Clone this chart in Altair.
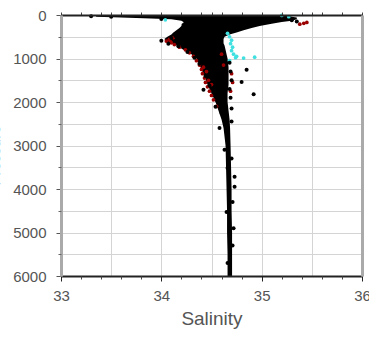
import altair as alt
import pandas as pd

# ---- data ----
env_depth = [0, 40, 60, 80, 100, 130, 160, 200, 250, 300, 350, 400, 450, 500, 550, 600, 650, 700,
             800, 900, 1000, 1200, 1400, 1600, 1800, 2000, 2200, 2400, 2600, 3000, 3500, 4000,
             4500, 5000, 5500, 6000]
env_smin = [33.35, 33.35, 33.6, 33.9, 34.1, 34.2, 34.22, 34.22, 34.2, 34.18, 34.15, 34.12, 34.1,
            34.06, 34.03, 34.05, 34.1, 34.15, 34.22, 34.3, 34.35, 34.39, 34.43, 34.46, 34.5,
            34.54, 34.57, 34.6, 34.62, 34.64, 34.645, 34.65, 34.655, 34.655, 34.66, 34.66]
env_smax = [35.25, 35.3, 35.35, 35.35, 35.35, 35.3, 35.2, 35.1, 34.98, 34.9, 34.82, 34.75, 34.68,
            34.63, 34.62, 34.62, 34.62, 34.63, 34.64, 34.65, 34.66, 34.67, 34.67, 34.67, 34.66,
            34.66, 34.67, 34.68, 34.685, 34.69, 34.695, 34.70, 34.70, 34.705, 34.705, 34.705]

red_sal = [34.05, 34.08, 34.10, 34.13, 34.18, 34.24, 34.28, 34.32, 34.35, 34.38, 34.40, 34.41,
           34.43, 34.44, 34.46, 34.48, 34.50, 34.52, 34.55, 34.45, 34.47, 34.50, 34.42, 34.70,
           34.71, 34.69, 35.42, 35.38, 35.45, 34.12, 34.09, 34.60, 34.62]
red_dep = [600, 560, 640, 680, 740, 800, 870, 950, 1050, 1150, 1250, 1350, 1450, 1550, 1650, 1750,
           1850, 1950, 2100, 1300, 1500, 1600, 1200, 1350, 1550, 1750, 190, 210, 170, 520, 610,
           900, 1150]

cyan_sal = [34.66, 34.68, 34.70, 34.69, 34.71, 34.70, 34.72, 34.74, 34.82, 34.93, 35.20, 35.27,
            34.04, 34.68, 34.75]
cyan_dep = [420, 500, 580, 660, 740, 820, 900, 980, 990, 970, 10, 40, 110, 1050, 950]

blk_sal = [34.85, 34.80, 34.92, 34.42, 34.54, 34.22, 34.58, 34.66, 34.73, 34.73, 34.65, 34.72,
           34.63, 34.71, 34.71, 34.66, 34.70, 34.14, 34.10, 34.00, 34.07, 34.17, 34.26, 34.33,
           34.38, 34.44, 34.48, 34.53, 34.56, 34.60, 34.68, 34.69, 34.70, 34.68, 34.69, 34.70,
           34.70, 33.30, 33.50, 35.30, 35.35, 34.00]
blk_dep = [1260, 1540, 1820, 1720, 2110, 230, 2600, 3520, 3720, 3950, 4530, 4900, 3100, 4300,
           5300, 5700, 3300, 480, 530, 590, 660, 720, 850, 980, 1120, 1400, 1620, 1800, 1980,
           2250, 1100, 1300, 1500, 1700, 1900, 2150, 2450, 30, 40, 120, 150, 90]

x_grid = [33, 33.5, 34, 34.5, 35, 35.5, 36]
x_major = [33, 34, 35, 36]
x_minor = [33.2, 33.4, 33.6, 33.8, 34.2, 34.4, 34.6, 34.8, 35.2, 35.4, 35.6, 35.8]
y_grid = [0, 500, 1000, 1500, 2000, 2500, 3000, 3500, 4000, 4500, 5000, 5500, 6000]
y_major = [0, 1000, 2000, 3000, 4000, 5000, 6000]
y_minor = [500, 1500, 2500, 3500, 4500, 5500]

env = pd.DataFrame({"depth": env_depth, "smin": env_smin, "smax": env_smax})
red = pd.DataFrame({"sal": red_sal, "dep": red_dep})
cyan = pd.DataFrame({"sal": cyan_sal, "dep": cyan_dep})
blk = pd.DataFrame({"sal": blk_sal, "dep": blk_dep})

xs = alt.Scale(domain=[33, 36], nice=False, zero=False)
ys = alt.Scale(domain=[0, 6000], nice=False, zero=False, reverse=True)
FONT = "Liberation Sans"

area = alt.Chart(env).mark_area(orient="horizontal", color="black", interpolate="linear").encode(
    y=alt.Y("depth:Q", scale=ys,
            axis=alt.Axis(orient="left", values=y_grid, grid=True, gridColor="#d4d4d4",
                          labels=False, ticks=False, domain=False, title=None, zindex=0)),
    x=alt.X("smin:Q", scale=xs, stack=None,
            axis=alt.Axis(orient="bottom", values=x_grid, grid=True, gridColor="#d4d4d4",
                          labels=False, ticks=False, domain=False, title=None, zindex=0)),
    x2="smax:Q",
)

redp = alt.Chart(red).mark_circle(color="#9a0000", size=14, opacity=1).encode(
    x=alt.X("sal:Q", scale=xs,
            axis=alt.Axis(orient="bottom", values=x_major, format="d", grid=False, tickSize=5,
                          tickColor="#222", domain=True, domainColor="#222", domainWidth=2,
                          labelFont=FONT, labelFontSize=15, labelColor="#555", labelPadding=7,
                          labelFlush=False, title="Salinity", titleFont=FONT, titleFontSize=19,
                          titleFontWeight="normal", titleColor="#555", titlePadding=6, zindex=1)),
    y=alt.Y("dep:Q", scale=ys,
            axis=alt.Axis(orient="left", values=y_major, format="d", grid=False, tickSize=5,
                          tickColor="#555", domain=True, domainColor="#aaaaaa", domainWidth=3,
                          labelFont=FONT, labelFontSize=15, labelColor="#555", labelPadding=10,
                          labelFlush=False, title="Pressure", titleFont=FONT, titleFontSize=15,
                          titleFontWeight="normal", titleColor="#555", titleX=-62, titleY=140,
                          titleBaseline="alphabetic", titleAngle=270, zindex=1)),
)

cyanp = alt.Chart(cyan).mark_circle(color="#40e0e0", size=14, opacity=1).encode(
    x=alt.X("sal:Q", scale=xs,
            axis=alt.Axis(orient="bottom", values=x_minor, grid=False, tickSize=3,
                          tickColor="#444", domain=False, labels=False, title=None, zindex=1)),
    y=alt.Y("dep:Q", scale=ys,
            axis=alt.Axis(orient="left", values=y_minor, grid=False, tickSize=3,
                          tickColor="#666", domain=False, labels=False, title=None, zindex=1)),
)

blkp = alt.Chart(blk).mark_circle(color="black", size=16, opacity=1).encode(
    x=alt.X("sal:Q", scale=xs,
            axis=alt.Axis(orient="top", values=x_grid + x_minor, grid=False, tickSize=3,
                          tickColor="#444", domain=True, domainColor="#222", domainWidth=2,
                          labels=False, title=None, zindex=1)),
    y=alt.Y("dep:Q", scale=ys,
            axis=alt.Axis(orient="right", grid=False, ticks=False, domain=True,
                          domainColor="#aaaaaa", domainWidth=3, labels=False, title=None,
                          zindex=1)),
)

chart = alt.layer(area, redp, cyanp, blkp).resolve_axis(x="independent", y="independent").properties(
    width=301, height=261,
    padding={"left": 61, "top": 15, "right": 7, "bottom": 62},
    autosize=alt.AutoSizeParams(type="none"),
    title=alt.TitleParams(text="Salinity", font=FONT, fontSize=19, fontWeight="normal",
                          color="#555", anchor="middle", frame="group", offset=12,
                          baseline="bottom"),
).configure_view(stroke=None)

chart.save("out.html", embed_options={"renderer": "svg", "actions": False})
